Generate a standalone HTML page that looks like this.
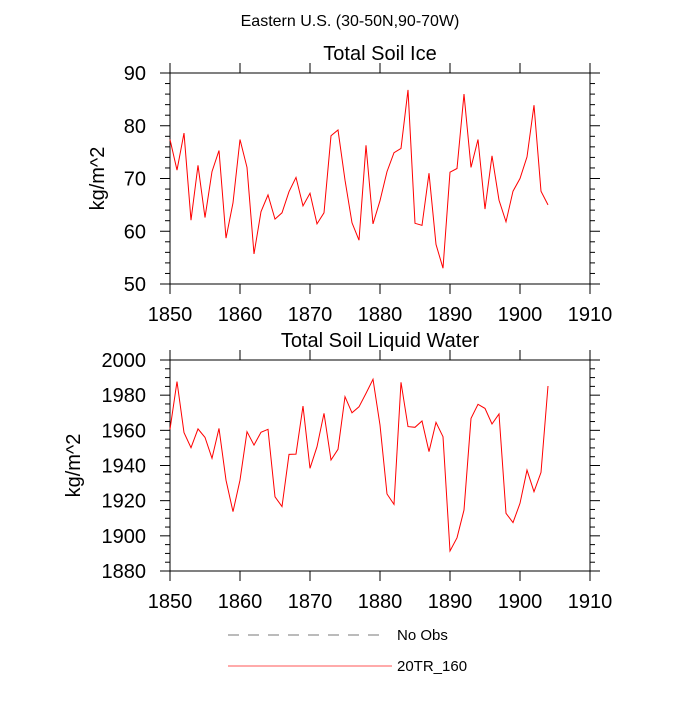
<!DOCTYPE html>
<html><head><meta charset="utf-8"><style>
body{margin:0;background:#fff;}
svg text{font-family:"Liberation Sans",sans-serif;fill:#000;}
</style></head><body>
<svg id="chart" width="700" height="700">
<text x="350" y="26" font-size="16" text-anchor="middle">Eastern U.S. (30-50N,90-70W)</text>
<g id="p1"></g>
<g id="p2"></g>
<line x1="228" y1="635" x2="386" y2="635" stroke="#777" stroke-dasharray="11,9"/>
<text x="397" y="640" font-size="15">No Obs</text>
<line x1="228" y1="666" x2="392" y2="666" stroke="#f55"/>
<text x="397" y="671" font-size="15">20TR_160</text>
</svg>
<script>
const years = [];
for (let y = 1850; y <= 1904; y++) years.push(y);
const iceValues = [77.4,71.6,78.6,62.1,72.5,62.6,71.3,75.3,58.7,65.4,77.4,72.1,55.7,63.7,66.9,62.3,63.5,67.5,70.2,64.8,67.2,61.4,63.5,78.1,79.2,69.7,61.6,58.3,76.3,61.4,65.8,71.3,74.9,75.7,86.8,61.5,61.1,71.0,57.5,53.0,71.2,71.9,86.0,72.1,77.4,64.2,74.3,65.9,61.8,67.6,70.0,74.1,83.9,67.6,65.0];
const waterValues = [1960.6,1987.7,1958.7,1950.1,1960.8,1956.0,1944.1,1961.1,1931.7,1913.7,1931.7,1959.2,1951.6,1958.9,1960.6,1922.2,1916.6,1946.3,1946.5,1973.8,1938.4,1950.7,1969.7,1943.1,1949.2,1979.1,1970.0,1973.4,1981.0,1989.0,1963.0,1923.8,1917.9,1987.3,1962.1,1961.7,1965.3,1947.9,1964.5,1956.4,1891.4,1898.9,1914.7,1966.8,1974.8,1972.5,1963.6,1969.3,1912.8,1907.5,1918.5,1937.4,1925.1,1936.1,1985.2];
const xTicks = [1850,1860,1870,1880,1890,1900,1910];
const iceTicks = [50,60,70,80,90];
const waterTicks = [1880,1900,1920,1940,1960,1980,2000];
const NS = "http://www.w3.org/2000/svg";
function mk(parent, tag, attrs){const e=document.createElementNS(NS,tag);for(const k in attrs)e.setAttribute(k,attrs[k]);parent.appendChild(e);return e;}
function panel(g, top, title, vals, yTicks, yMin, yMax, minorStep, name, titleX){
  const L=170,R=590,T=top,B=top+211;
  const xs=v=>L+(v-1850)/60*(R-L);
  const ys=v=>B-(v-yMin)/(yMax-yMin)*(B-T);
  const t=mk(g,'text',{x:380,y:T-13,'font-size':20,'text-anchor':'middle'});t.textContent=title;
  
  
  const ax=mk(g,'rect',{x:L,y:T,width:R-L,height:B-T,fill:'none',stroke:'#000','stroke-width':1});
  
  
  xTicks.forEach(v=>{
    const x=xs(v);
    mk(g,'line',{x1:x,y1:B,x2:x,y2:B+10,stroke:'#000'});
    mk(g,'line',{x1:x,y1:T,x2:x,y2:T-10,stroke:'#000'});
  });
  xTicks.forEach(v=>{const e=mk(g,'text',{x:xs(v),y:B+37,'font-size':20,'text-anchor':'middle'});e.textContent=v;
    
    });
  for(let v=yMin; v<=yMax+1e-9; v+=minorStep){
    const y=ys(v), maj=yTicks.includes(Math.round(v)), len=maj?10:5;
    mk(g,'line',{x1:L,y1:y,x2:L-len,y2:y,stroke:'#000'});
    mk(g,'line',{x1:R,y1:y,x2:R+len,y2:y,stroke:'#000'});
  }
  yTicks.forEach(v=>{const e=mk(g,'text',{x:146,y:ys(v)+7,'font-size':20,'text-anchor':'end'});e.textContent=v;
    
    });
  const yt=mk(g,'text',{x:0,y:0,'font-size':20,'text-anchor':'middle',transform:`translate(${titleX},${(T+B)/2}) rotate(-90)`});yt.textContent='kg/m^2';
  
  
  const pts=vals.map((v,i)=>xs(years[i]).toFixed(1)+','+ys(v).toFixed(1)).join(' ');
  const pl=mk(g,'polyline',{points:pts,fill:'none',stroke:'#f00','stroke-width':1});
  
  
}
panel(document.getElementById('p1'),73,'Total Soil Ice',iceValues,iceTicks,50,90,2,'soil-ice',104);
panel(document.getElementById('p2'),360,'Total Soil Liquid Water',waterValues,waterTicks,1880,2000,5,'soil-water',80);
</script>
</body></html>
